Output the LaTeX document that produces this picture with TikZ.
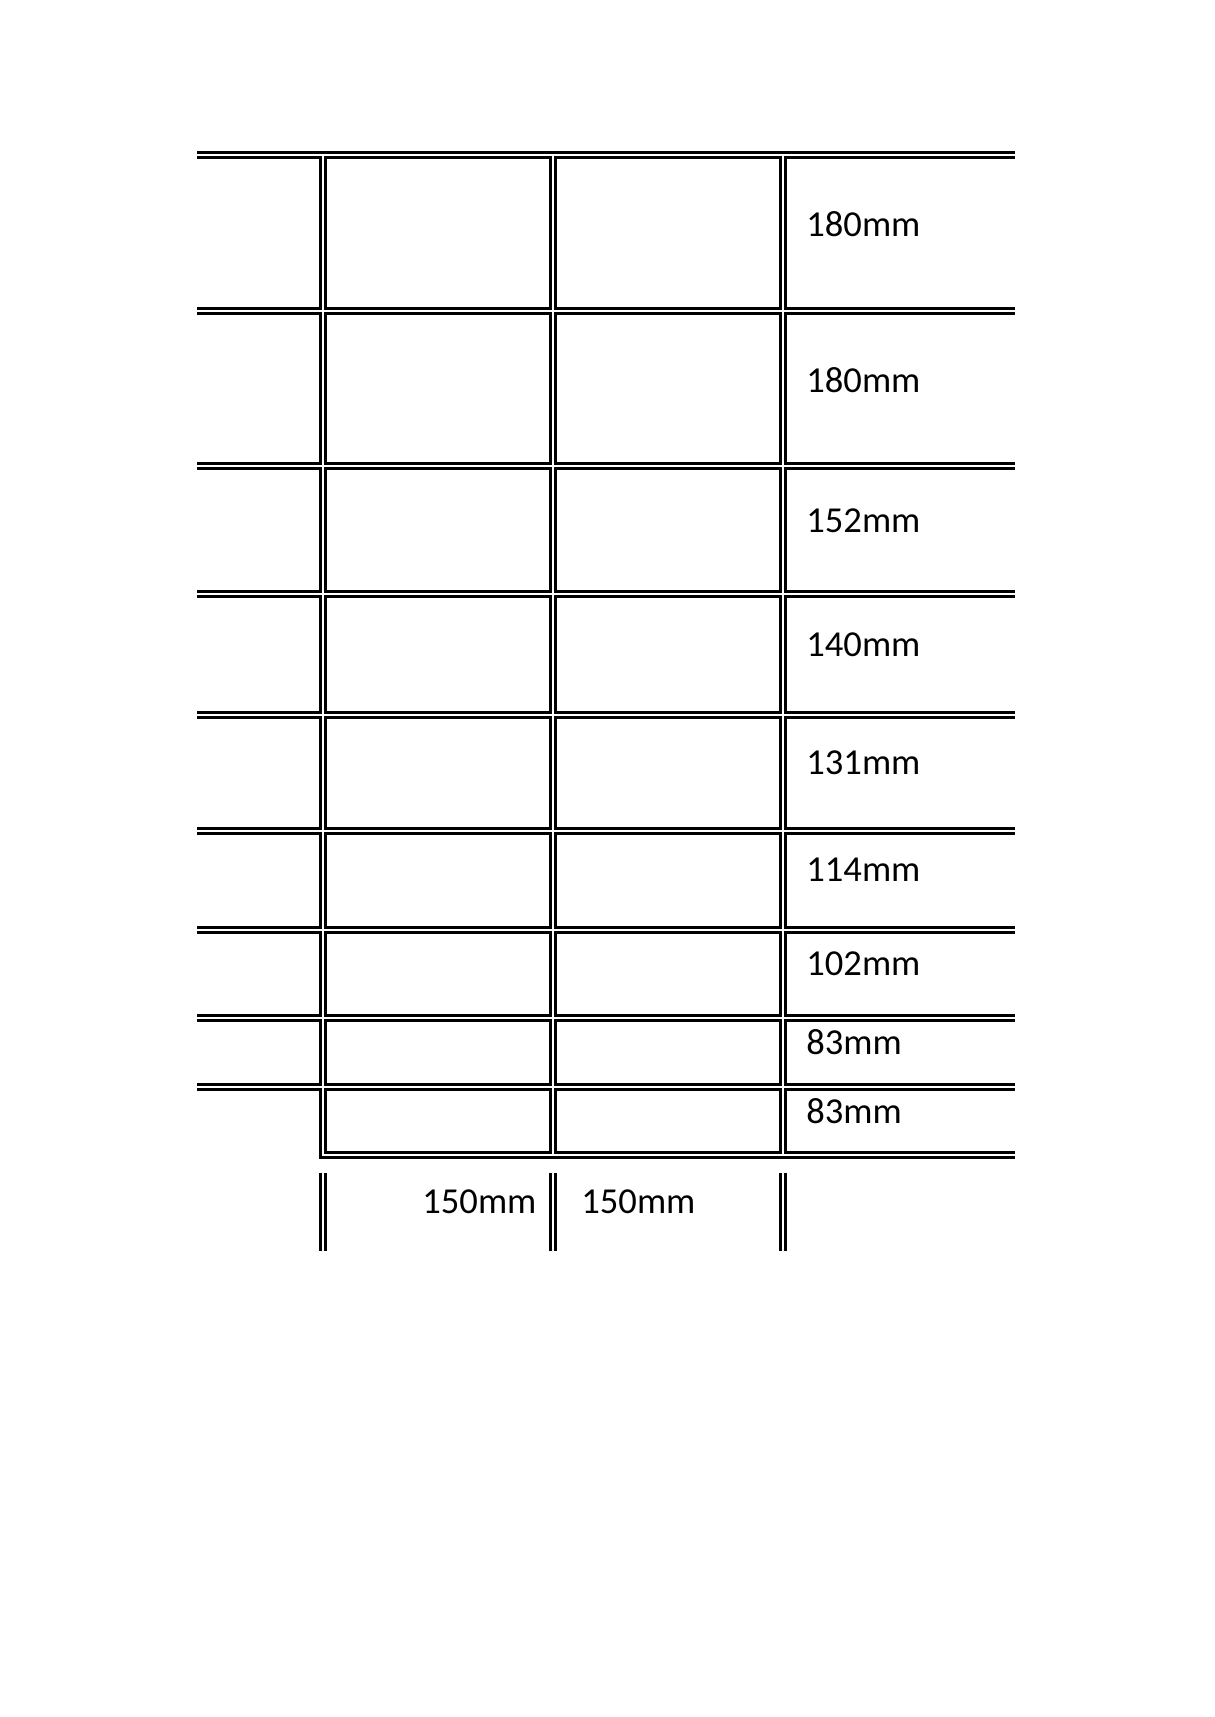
\documentclass[tikz,border=0pt]{standalone}
\usepackage{fontspec}
\setmainfont{Carlito}
\usetikzlibrary{positioning}

\begin{document}
\begin{tikzpicture}[x=0.0173cm, y=-0.0173cm]
	\tikzstyle{wire} = [line width=4.3pt, draw=black]
	\tikzstyle{gap} = [line width=0.8pt, draw=white]
	\tikzstyle{size} = [anchor=west, inner sep=0pt, font=\fontsize{18}{21.6}\selectfont]
	\useasboundingbox (0,0) rectangle (1214,1717);
	\foreach \pass in {wire, gap} {
		\foreach \y in {155,311,466,594,715,831,930,1018,1087}
			\draw [\pass] (197,\y) -- (1015,\y);
		\draw [\pass] (323,155) -- (323,1155) -- (1015,1155);
		\foreach \x in {553,783}
			\draw [\pass] (\x,155) -- (\x,1155);
		\foreach \x in {323,553,783}
			\draw [\pass] (\x,1173) -- (\x,1251);
	}
	\node (row1) [size] at (806,224) {180mm};
	\node (row2) [size] at (806,380) {180mm};
	\node (row3) [size] at (806,521) {152mm};
	\node (row4) [size] at (806,645) {140mm};
	\node (row5) [size] at (806,763) {131mm};
	\node (row6) [size] at (806,870) {114mm};
	\node (row7) [size] at (806,964) {102mm};
	\node (row8) [size] at (806,1042) {83mm};
	\node (row9) [size] at (806,1111) {83mm};
	\node (col1) [size] at (422,1202) {150mm};
	\node (col2) [size] at (581,1202) {150mm};
\end{tikzpicture}
\end{document}
